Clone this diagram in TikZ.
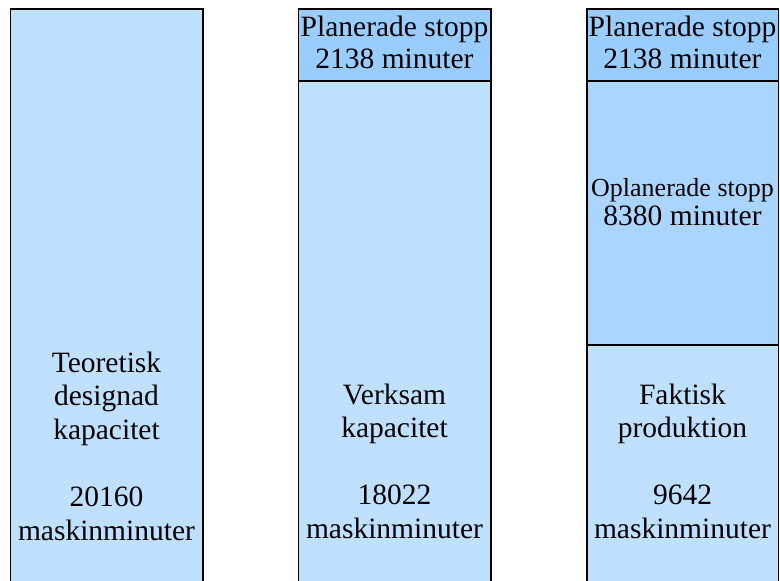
\documentclass[tikz,border=0pt]{standalone}
\usepackage{fontspec}
\setmainfont{Liberation Serif}
\definecolor{capfill}{RGB}{192,224,255}
\definecolor{planfill}{RGB}{153,204,255}
\definecolor{unplanfill}{RGB}{170,213,255}
\tikzset{
  bar/.style={draw=black, line width=1.6pt},
  label/.style={align=center, inner sep=0pt, anchor=base,
    font=\fontsize{29.5}{33.6}\selectfont},
  headlabel/.style={label, font=\fontsize{29.5}{32.3}\selectfont}
}
\begin{document}
\begin{tikzpicture}[x=1pt,y=-1pt]
\useasboundingbox (0,0) rectangle (780,581);
\clip (0,0) rectangle (780,581);
% column 1: theoretical capacity
\fill[capfill] (10.5,9) rectangle (203,600);
\draw[bar] (10.5,600) -- (10.5,9) -- (203,9) -- (203,600);
% column 2: planned stops + operating capacity
\fill[capfill] (298.5,81) rectangle (491,600);
\fill[planfill] (298.5,9) rectangle (491,81);
\draw[bar] (298.5,600) -- (298.5,9) -- (491,9) -- (491,600);
\draw[bar] (298.5,81) -- (491,81);
% column 3: planned stops + unplanned stops + actual production
\fill[planfill] (587,9) rectangle (778.5,81);
\fill[unplanfill] (587,81) rectangle (778.5,345);
\fill[capfill] (587,345) rectangle (778.5,600);
\draw[bar] (587,600) -- (587,9) -- (778.5,9) -- (778.5,600);
\draw[bar] (587,81) -- (778.5,81);
\draw[bar] (587,345) -- (778.5,345);
% texts (base anchor sits on the last line)
\node[label] (teo) at (106.5,540) {Teoretisk\\designad\\kapacitet\\[33.6pt]20160\\maskinminuter};
\node[headlabel] (plan2) at (394.5,68.3) {Planerade stopp\\2138 minuter};
\node[label] (verk) at (394.5,538.5) {Verksam\\kapacitet\\[33.6pt]18022\\maskinminuter};
\node[headlabel] (plan3) at (682.5,68.3) {Planerade stopp\\2138 minuter};
\node[label, font=\fontsize{29.5}{28.3}\selectfont] (oplan) at (682.5,225) {{\fontsize{26}{28.3}\selectfont Oplanerade stopp}\\8380 minuter};
\node[label] (fakt) at (682.5,538.5) {Faktisk\\produktion\\[33.6pt]9642\\maskinminuter};
\end{tikzpicture}
\end{document}
